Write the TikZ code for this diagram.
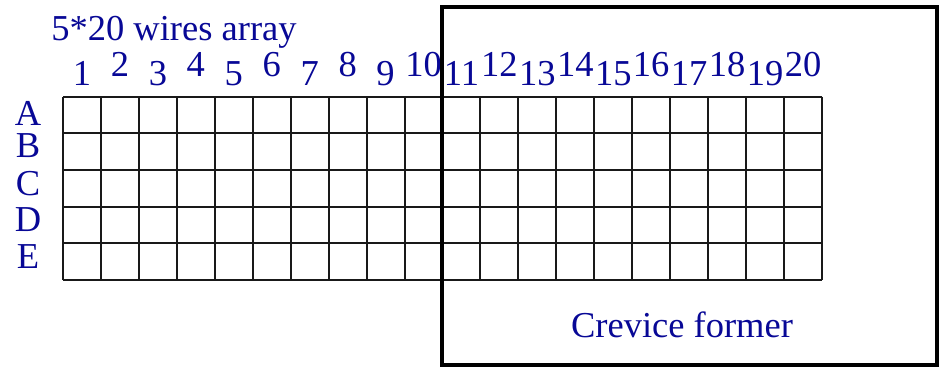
\documentclass[tikz,border=0pt]{standalone}
\usepackage{fontspec}
\setmainfont{Liberation Serif}
\definecolor{lblue}{RGB}{8,8,150}
\begin{document}
\begin{tikzpicture}[x=1pt,y=-1pt,
  lbl/.style={text=lblue,inner sep=0pt,anchor=base,font=\fontsize{36.5}{40}\selectfont},
  rowlbl/.style={lbl,text height=22pt,text depth=0pt},
  gridline/.style={line width=2pt,draw=black!90},
  former/.style={line width=3.8pt,draw=black}]
\useasboundingbox (0,0) rectangle (941,367);
% grid
\foreach \i in {0,...,20} \draw[gridline] ({63+\i*37.95},96.5) -- ({63+\i*37.95},280);
\foreach \j in {0,...,5} \draw[gridline] (63,{96.5+\j*36.7}) -- (822,{96.5+\j*36.7});
\node[lbl] (title) at (174,40) {5*20 wires array};
% column numbers
\foreach \i in {1,...,20}{
  \pgfmathsetmacro{\cx}{63+(\i-0.5)*37.95}
  \pgfmathsetmacro{\by}{isodd(\i) ? 85 : 76}
  \node[lbl] (c\i) at (\cx,\by) {\i};
}
% row letters
\node[rowlbl] (rA) at (28,125) {A};
\node[rowlbl] (rB) at (28,157) {B};
\node[rowlbl] (rC) at (28,195) {C};
\node[rowlbl] (rD) at (28,231) {D};
\node[rowlbl] (rE) at (28,268) {E};
% crevice former
\draw[former] (442,7) rectangle (937,365);
\node[lbl] (cf) at (682,337) {Crevice former};
\end{tikzpicture}
\end{document}
